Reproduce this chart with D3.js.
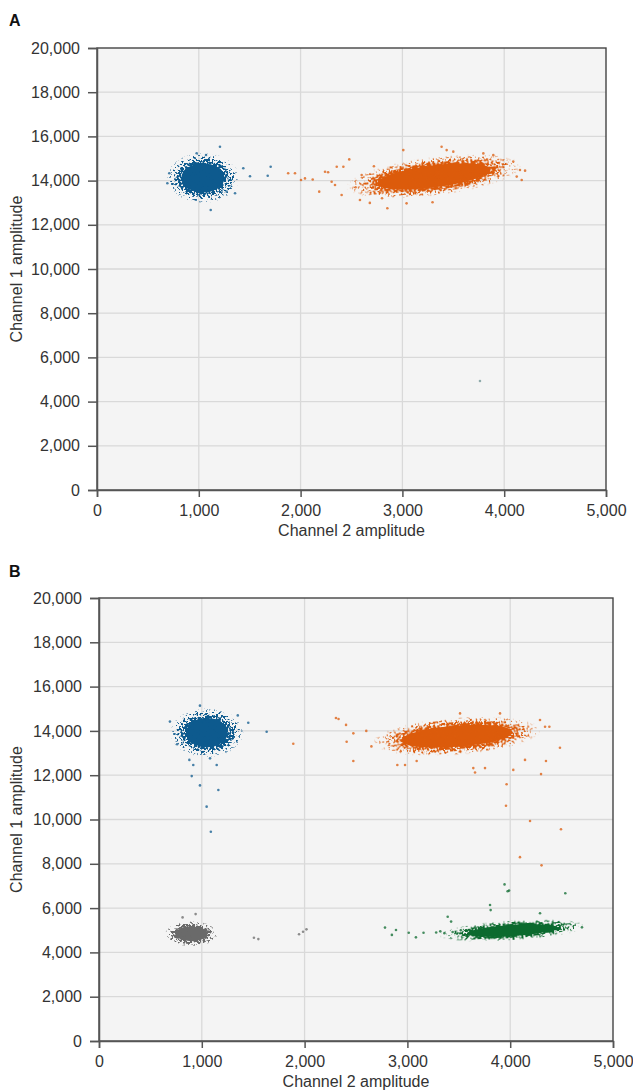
<!DOCTYPE html>
<html>
<head>
<meta charset="utf-8">
<script src="https://cdn.jsdelivr.net/npm/d3@7"></script>
<style>
  body { margin: 0; background: #fff; }
  svg text { font-family: "Liberation Sans", Arial, sans-serif; fill: #333; }
</style>
</head>
<body>
<svg id="chart" width="633" height="1091"></svg>
<script>
'use strict'

// tick values for both panels
var xTicks = [0, 1000, 2000, 3000, 4000, 5000]
var yTicks = [0, 2000, 4000, 6000, 8000, 10000, 12000, 14000, 16000, 18000, 20000]

// droplet clusters (amplitude units)
// x/y = centre, core* = dense half-extent, spread* = outer half-extent, slope = ch1 rise per ch2 unit
var clustersA = [
  { group: "ch1",    x: 1040, y: 14120, coreX: 230, coreY: 720, spreadX: 360, spreadY: 1150, slope: 0 },
  { group: "double", x: 3310, y: 14190, coreX: 610, coreY: 540, spreadX: 870, spreadY: 880,  slope: 0.58 }
]
var clustersB = [
  { group: "ch1",    x: 1050, y: 13920, coreX: 220, coreY: 720, spreadX: 360, spreadY: 1120, slope: 0 },
  { group: "double", x: 3480, y: 13760, coreX: 590, coreY: 520, spreadX: 820, spreadY: 850,  slope: 0.35 },
  { group: "neg",    x: 900,  y: 4840,  coreX: 170, coreY: 360, spreadX: 260, spreadY: 580,  slope: 0 },
  { group: "ch2",    x: 4020, y: 4990,  coreX: 480, coreY: 270, spreadX: 720, spreadY: 460,  slope: 0.3 }
]

// single droplets lying outside the dense clouds
var outliersA_ch1 = [[1208,15530],[1503,14200],[1677,14220],[1706,14630],[1437,14556],[1117,12670],[1356,13430],[691,13880],[710,14330],[979,15235],[1071,15158],[1274,13500]]
var outliersA_double = [[1878,14330],[1945,14330],[2004,14030],[2043,14100],[2119,14050],[2183,13500],[2240,14400],[2270,14380],[2305,13950],[2338,13800],[2355,14630],[2403,13350],[2420,14630],[2478,14960],[2540,13700],[2583,13120],[2600,14250],[2680,12990],[2720,14650],[2800,13200],[2852,12750],[3009,15380],[3041,12970],[3296,13020],[3385,15530],[3435,15380],[3500,15310],[3795,15230],[3893,15160],[4089,14860],[4123,14180],[4155,14480],[4172,14030],[4205,14450]]
var outliersA_other = [[3762,4930]]

var outliersB_ch1 = [[982,15140],[690,14420],[760,13400],[1350,14700],[1452,14370],[1631,13960],[879,12690],[917,12460],[1080,12760],[1145,12460],[902,11960],[982,11540],[1161,11330],[1047,10580],[1088,9450]]
var outliersB_double = [[1890,13420],[2305,14580],[2330,14540],[2403,14270],[2474,13890],[2409,13510],[2474,12640],[2600,14000],[2650,13300],[2902,12460],[2977,12460],[3090,12640],[3512,14790],[3641,12320],[3658,12120],[3755,12320],[3901,14790],[4030,12240],[4144,12690],[4300,12050],[4348,12640],[4484,13240],[4290,14490],[4339,14190],[4381,14190],[3965,11590],[3959,10620],[4193,9930],[4494,9560],[4095,8300],[4305,7930]]
var outliersB_neg = [[940,5730],[813,5580],[1507,4660],[1550,4600],[1946,4820],[1985,4930],[2018,5040]]
var outliersB_ch2 = [[2782,5120],[2849,4790],[2889,5010],[3013,4890],[3083,4680],[3157,4890],[3280,4900],[3320,4950],[3360,4870],[3392,5610],[3425,5390],[3440,4920],[3480,4850],[3520,5000],[3804,6140],[3810,5910],[3945,7070],[3975,6760],[3989,6790],[4290,5770],[4536,6670],[4698,5130]]

var groupColors = { ch1: "#0d5a8e", double: "#dc5b0b", neg: "#6a6a6a", ch2: "#0b6a2e", other: "#6f9494" }

var panels = [
  { name: "A", clusters: clustersA, left: 97, top: 48, width: 509, height: 442, letterY: 26,
    outliers: [["ch1", outliersA_ch1], ["double", outliersA_double], ["other", outliersA_other]] },
  { name: "B", clusters: clustersB, left: 99, top: 598, width: 514, height: 443, letterY: 577,
    outliers: [["ch1", outliersB_ch1], ["double", outliersB_double], ["neg", outliersB_neg], ["ch2", outliersB_ch2]] }
]

var svg = d3.select("#chart")
var defs = svg.append("defs")
var fmt = d3.format(",")

// speckle filter per colour: cloud alpha A becomes droplet density (mask where A + noise > 1)
Object.keys(groupColors).forEach(function(key){
  var f = defs.append("filter").attr("id", "speckle-" + key)
    .attr("x", "-5%").attr("y", "-5%").attr("width", "110%").attr("height", "110%")
    .attr("color-interpolation-filters", "sRGB")
  f.append("feTurbulence").attr("type", "fractalNoise").attr("baseFrequency", "0.45")
    .attr("numOctaves", 2).attr("seed", 5).attr("result", "noise")
  f.append("feColorMatrix").attr("in", "noise").attr("type", "matrix")
    .attr("values", "0 0 0 0 0  0 0 0 0 0  0 0 0 0 0  1 0 0 0 0").attr("result", "na")
  // stretch the noise contrast so it covers 0..1
  f.append("feComponentTransfer").attr("in", "na").attr("result", "ns")
    .append("feFuncA").attr("type", "linear").attr("slope", 3.2).attr("intercept", -1.1)
  f.append("feComposite").attr("in", "SourceAlpha").attr("in2", "ns").attr("operator", "arithmetic")
    .attr("k1", 0).attr("k2", 1).attr("k3", 1).attr("k4", -1).attr("result", "sum")
  f.append("feComponentTransfer").attr("in", "sum").attr("result", "mask")
    .append("feFuncA").attr("type", "linear").attr("slope", 4).attr("intercept", 0)
  f.append("feFlood").attr("flood-color", groupColors[key]).attr("result", "col")
  f.append("feComposite").attr("in", "col").attr("in2", "mask").attr("operator", "in")
})

panels.forEach(function(p){
  var x = d3.scaleLinear().domain([0, 5000]).range([0, p.width])
  var y = d3.scaleLinear().domain([0, 20000]).range([p.height, 0])

  svg.append("text")
    .attr("x", 9).attr("y", p.letterY)
    .style("font-size", "16px").style("font-weight", "bold").style("fill", "#111")
    .text(p.name)

  var g = svg.append("g").attr("transform", "translate(" + p.left + "," + p.top + ")")

  g.append("rect").attr("width", p.width).attr("height", p.height).attr("fill", "#f4f4f4")

  // grid
  g.append("g").selectAll("line").data(xTicks.slice(1, -1)).enter().append("line")
    .attr("x1", function(d){ return x(d) }).attr("x2", function(d){ return x(d) })
    .attr("y1", 0).attr("y2", p.height)
    .attr("stroke", "#d9d9d9").attr("stroke-width", 1.3)
  g.append("g").selectAll("line").data(yTicks.slice(1, -1)).enter().append("line")
    .attr("y1", function(d){ return y(d) }).attr("y2", function(d){ return y(d) })
    .attr("x1", 0).attr("x2", p.width)
    .attr("stroke", "#d9d9d9").attr("stroke-width", 1.3)

  // dense clouds: solid core under a speckled halo
  var kx = (x(1000) - x(0)) / 1000
  var ky = (y(0) - y(1000)) / 1000
  var clouds = g.append("g")
  p.clusters.forEach(function(c, i){
    var gid = "grad-" + p.name + i
    var ratio = (c.coreX / c.spreadX + c.coreY / c.spreadY) / 2
    var grad = defs.append("radialGradient").attr("id", gid)
    ;[[0, 1], [ratio, 0.9], [ratio + (1 - ratio) * 0.45, 0.38], [1, 0]].forEach(function(s){
      grad.append("stop").attr("offset", s[0]).attr("stop-color", "#000").attr("stop-opacity", s[1])
    })
    var ang = -Math.atan(c.slope * ky / kx) * 180 / Math.PI
    var rot = "rotate(" + ang + "," + x(c.x) + "," + y(c.y) + ")"
    clouds.append("ellipse")
      .attr("cx", x(c.x)).attr("cy", y(c.y))
      .attr("rx", (x(c.coreX) - x(0)) * 0.92).attr("ry", (y(0) - y(c.coreY)) * 0.92)
      .attr("transform", rot)
      .attr("fill", groupColors[c.group])
    clouds.append("ellipse")
      .attr("cx", x(c.x)).attr("cy", y(c.y))
      .attr("rx", x(c.spreadX) - x(0)).attr("ry", y(0) - y(c.spreadY))
      .attr("transform", rot)
      .attr("fill", "url(#" + gid + ")")
      .attr("filter", "url(#speckle-" + c.group + ")")
  })

  // single droplets
  p.outliers.forEach(function(o){
    g.append("g").selectAll("circle").data(o[1]).enter().append("circle")
      .attr("cx", function(d){ return x(d[0]) })
      .attr("cy", function(d){ return y(d[1]) })
      .attr("r", 1.3)
      .attr("fill", groupColors[o[0]])
      .attr("opacity", 0.75)
  })

  // frame + axes
  g.append("rect").attr("width", p.width).attr("height", p.height)
    .attr("fill", "none").attr("stroke", "#444").attr("stroke-width", 1.4)

  var xAxis = g.append("g").attr("transform", "translate(0," + p.height + ")")
    .call(d3.axisBottom(x).tickValues(xTicks).tickFormat(fmt).tickSize(7).tickPadding(8))
  var yAxis = g.append("g")
    .call(d3.axisLeft(y).tickValues(yTicks).tickFormat(fmt).tickSize(9).tickPadding(8))
  ;[xAxis, yAxis].forEach(function(a){
    a.attr("font-family", null)
    a.selectAll("path, line").attr("stroke", "#555").attr("stroke-width", 1.5)
    a.selectAll("text").style("font-size", "16px").style("fill", "#333")
  })

  g.append("text")
    .attr("x", p.width / 2).attr("y", p.height + 46)
    .attr("text-anchor", "middle").style("font-size", "16px")
    .text("Channel 2 amplitude")
  svg.append("text")
    .attr("transform", "translate(" + 22 + "," + (p.top + p.height / 2) + ") rotate(-90)")
    .attr("text-anchor", "middle").style("font-size", "16px")
    .text("Channel 1 amplitude")
})
</script>
</body>
</html>
